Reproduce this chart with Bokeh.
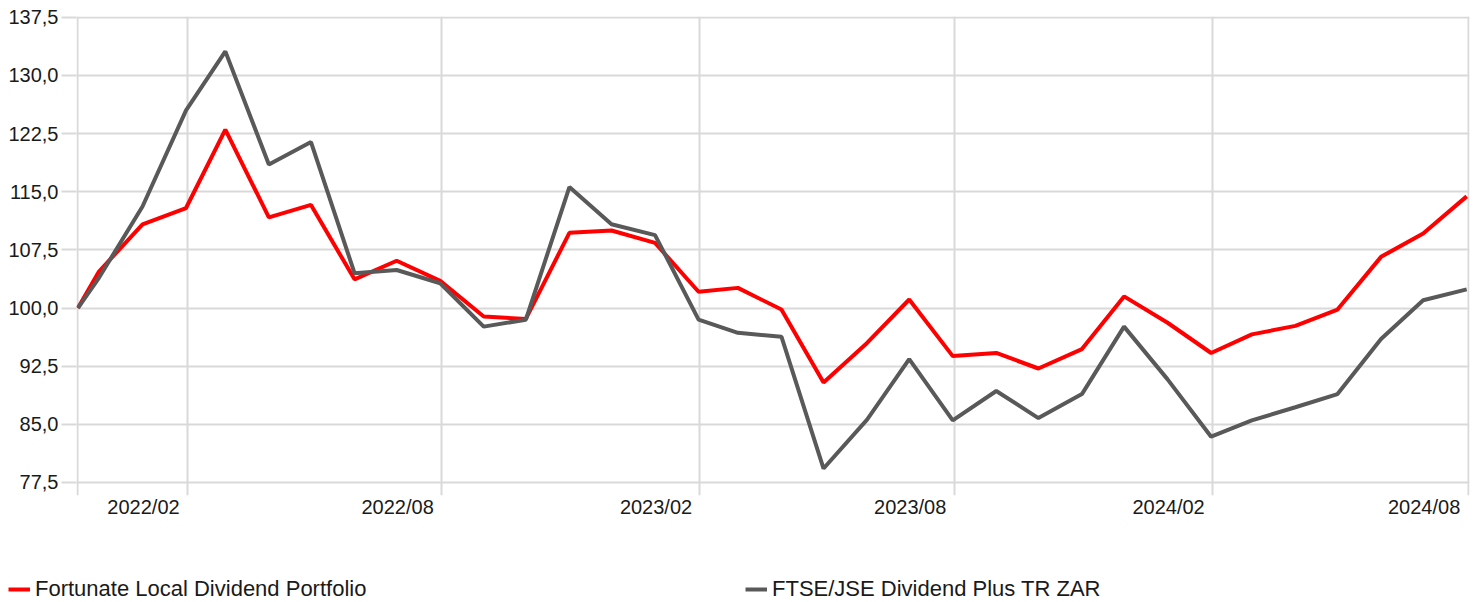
import pandas as pd
from bokeh.plotting import figure
from bokeh.models import FixedTicker, Range1d, Legend, LegendItem, CustomJSTickFormatter
from bokeh.embed import file_html
from bokeh.resources import INLINE

# ---- data ----
dates = [
    "2021-11-15", "2021-11-30", "2021-12-31",
    "2022-01-31", "2022-02-28", "2022-03-31", "2022-04-30", "2022-05-31", "2022-06-30",
    "2022-07-31", "2022-08-31", "2022-09-30", "2022-10-31", "2022-11-30", "2022-12-31",
    "2023-01-31", "2023-02-28", "2023-03-31", "2023-04-30", "2023-05-31", "2023-06-30",
    "2023-07-31", "2023-08-31", "2023-09-30", "2023-10-31", "2023-11-30", "2023-12-31",
    "2024-01-31", "2024-02-29", "2024-03-31", "2024-04-30", "2024-05-31", "2024-06-30",
    "2024-07-31",
]
portfolio = [
    100.0, 104.7, 110.8,
    112.9, 123.0, 111.7, 113.3, 103.7, 106.1,
    103.5, 98.9, 98.6, 109.7, 110.0, 108.4,
    102.1, 102.6, 99.8, 90.4, 95.5, 101.1,
    93.8, 94.2, 92.2, 94.7, 101.5, 98.1,
    94.2, 96.6, 97.7, 99.8, 106.6, 109.6,
    114.4,
]
benchmark = [
    100.0, 103.9, 113.1,
    125.5, 133.1, 118.5, 121.4, 104.5, 104.9,
    103.2, 97.6, 98.5, 115.6, 110.8, 109.4,
    98.5, 96.8, 96.3, 79.3, 85.6, 93.4,
    85.5, 89.3, 85.8, 88.9, 97.6, 90.8,
    83.4, 85.5, 87.2, 88.9, 96.0, 101.0,
    102.4,
]
series_names = ["Fortunate Local Dividend Portfolio", "FTSE/JSE Dividend Plus TR ZAR"]
series_colors = ["#ff0000", "#595959"]
y_ticks = [77.5, 85.0, 92.5, 100.0, 107.5, 115.0, 122.5, 130.0, 137.5]
x_grid_dates = ["2022-02-01", "2022-08-01", "2023-02-01", "2023-08-01", "2024-02-01", "2024-08-01"]
x_tick_labels = ["2022/02", "2022/08", "2023/02", "2023/08", "2024/02", "2024/08"]

# ---- helpers ----
DAY = 86400000


def ms(d):
    return int(pd.Timestamp(d).value // 10**6)


x = pd.to_datetime(dates)
x_start = ms(dates[0])
x_end = ms(x_grid_dates[-1])

GRID = "#d9d9d9"
FONT = "Liberation Sans"
TEXT = "#1a1a1a"
W = 1480

p = figure(
    width=W, height=525,
    x_axis_type="datetime",
    x_range=Range1d(x_start - DAY, x_end + DAY),
    y_range=Range1d(75.82, 137.6),
    output_backend="svg", toolbar_location=None,
    min_border_left=76, min_border_right=11, min_border_top=16, min_border_bottom=30,
)
p.outline_line_color = None
p.background_fill_color = "white"
p.border_fill_color = "white"

# grids
p.xgrid.ticker = FixedTicker(ticks=[x_start] + [ms(d) for d in x_grid_dates])
p.ygrid.ticker = FixedTicker(ticks=y_ticks)
for g in (p.xgrid, p.ygrid):
    g.grid_line_color = GRID
    g.grid_line_width = 2

# y axis
ya = p.yaxis[0]
ya.ticker = FixedTicker(ticks=y_ticks)
ya.formatter = CustomJSTickFormatter(code="return tick.toFixed(1).replace('.', ',');")
ya.axis_line_color = None
ya.major_tick_out = 15
ya.major_tick_in = 0
ya.major_tick_line_color = GRID
ya.major_tick_line_width = 2
ya.minor_tick_line_color = None
ya.major_label_standoff = 3
ya.major_label_text_font = FONT
ya.major_label_text_font_size = "20px"
ya.major_label_text_color = TEXT

# x axis: each label sits just left of its gridline (label centre ~31 days earlier)
xa = p.xaxis[0]
label_pos = [int(ms(d) - 31.3 * DAY) for d in x_grid_dates]
xa.ticker = FixedTicker(ticks=label_pos)
xa.major_label_overrides = {pos: lab for pos, lab in zip(label_pos, x_tick_labels)}
xa.axis_line_color = None
xa.major_tick_out = 0
xa.major_tick_in = 0
xa.minor_tick_line_color = None
xa.major_label_standoff = 0
xa.major_label_text_font = FONT
xa.major_label_text_font_size = "20px"
xa.major_label_text_color = TEXT

# lines
r1 = p.line(x, portfolio, line_color=series_colors[0], line_width=4)
r2 = p.line(x, benchmark, line_color=series_colors[1], line_width=4)

# ---- legend strip below the chart (separate root, so frames are not aligned) ----
lg = figure(
    width=W, height=77,
    x_range=Range1d(0, 1), y_range=Range1d(0, 1),
    output_backend="svg", toolbar_location=None,
    x_axis_location=None, y_axis_location=None,
    min_border=0, min_border_left=0, min_border_right=0, min_border_top=0, min_border_bottom=0,
)
lg.outline_line_color = None
lg.grid.visible = False
lg.border_fill_color = "white"
lg.background_fill_color = "white"
# same series drawn here only to feed the legend swatches (outside this strip's ranges)
l1 = lg.line(x, portfolio, line_color=series_colors[0], line_width=4)
l2 = lg.line(x, benchmark, line_color=series_colors[1], line_width=4)

legend = Legend(
    items=[LegendItem(label=series_names[0], renderers=[l1]),
           LegendItem(label=series_names[1], renderers=[l2])],
    orientation="horizontal",
    location=(8, 0),
    glyph_width=22, glyph_height=24, label_height=24,
    label_standoff=5, label_width=710,
    spacing=0, padding=0, margin=0,
    border_line_alpha=0, background_fill_alpha=0,
    label_text_font=FONT, label_text_font_size="22px", label_text_color=TEXT,
)
lg.add_layout(legend)

open("out.html", "w").write(file_html([p, lg], INLINE))
